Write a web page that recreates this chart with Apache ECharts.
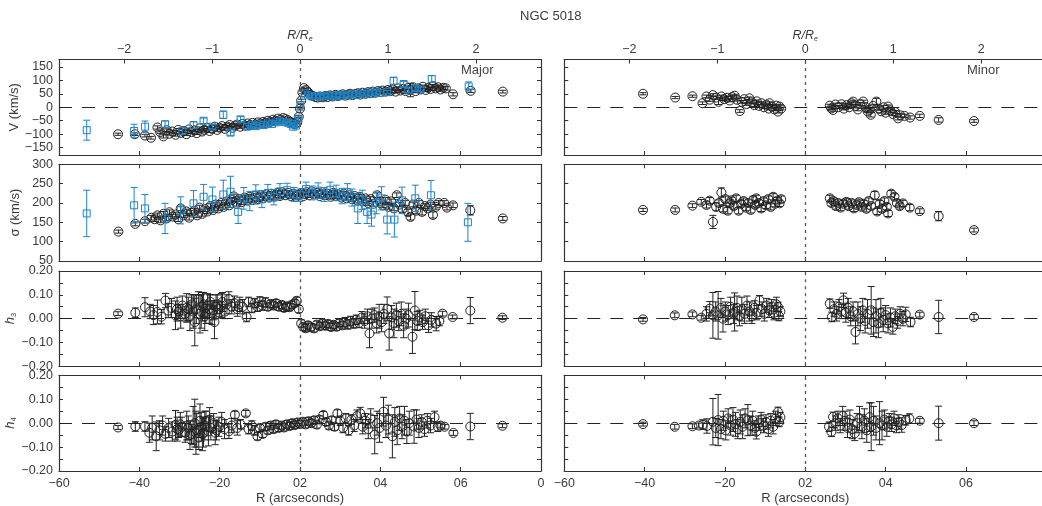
<!DOCTYPE html>
<html>
<head>
<meta charset="utf-8">
<script src="https://cdn.jsdelivr.net/npm/echarts@6/dist/echarts.min.js"></script>
<style>html,body{margin:0;padding:0;background:#fff;overflow:hidden}#c{width:1050px;height:506px}</style>
</head>
<body>
<div id="c"></div>
<script>
// ---------------- data (R arcsec, value, error) ----------------
const RE_ARCSEC = 21.9;
const X_TICK_LABELS = ['\u221260','\u221240','\u221220','02','04','06','0'];
const RE_TICKS = [-2,-1,0,1,2];
const V_TICKS = [-150,-100,-50,0,50,100,150];
const H_TICKS = [-0.2,-0.15,-0.1,-0.05,0,0.05,0.1,0.15,0.2];
const H_LABELS = [-0.2,-0.1,0,0.1,0.2];

const MAJ_V_K = [[-45.3,-100,4],[-41.1,-100,5],[-38.6,-105,5],[-37.1,-113,5],[-35.5,-75,6],[-34.8,-92,5],[-34.0,-108,6],[-33.2,-85,5],[-32.5,-98,5],[-31.8,-90,5],[-31.0,-102,5],[-30.3,-84,5],[-29.6,-95,5],[-29.0,-88,5],[-28.3,-100,5],[-27.6,-82,5],[-27.0,-92,5],[-26.3,-86,5],[-25.7,-96,5],[-25.0,-78,5],[-24.4,-90,5],[-23.8,-84,5],[-23.1,-76,5],[-22.5,-88,5],[-21.9,-80,5],[-21.2,-72,5],[-20.6,-84,5],[-20.0,-76,5],[-19.4,-70,5],[-18.7,-80,5],[-18.1,-72,5],[-17.5,-66,5],[-16.8,-76,5],[-16.2,-68,5],[-15.6,-64,5],[-14.9,-72,5],[-14.3,-62,5],[-13.7,-68,5],[-13.0,-60,4],[-12.4,-66,4],[-11.8,-58,4],[-11.1,-64,4],[-10.5,-56,4],[-9.9,-60,4],[-9.2,-54,4],[-8.6,-58,4],[-8.0,-50,4],[-7.4,-54,4],[-6.7,-46,4],[-6.1,-50,4],[-5.5,-42,4],[-4.8,-46,4],[-4.2,-40,4],[-3.6,-44,4],[-3.0,-48,4],[-2.4,-54,4],[-1.8,-58,4],[-1.2,-62,4],[-0.7,-56,4],[-0.3,-35,4],[0.0,-5,5],[0.3,25,5],[0.6,55,5],[1.0,71,4],[1.5,64,4],[2.0,56,4],[2.6,46,4],[3.2,42,4],[3.8,38,4],[4.4,36,4],[5.0,40,4],[5.7,37,4],[6.3,42,4],[6.9,38,4],[7.5,44,4],[8.1,40,4],[8.8,46,4],[9.4,42,4],[10.0,44,4],[10.6,48,4],[11.3,43,4],[11.9,47,4],[12.5,50,4],[13.1,45,4],[13.8,49,4],[14.4,52,4],[15.0,47,4],[15.6,54,4],[16.3,50,4],[16.9,56,4],[17.5,52,4],[18.1,58,4],[18.8,54,4],[19.4,60,4],[20.0,56,4],[20.6,62,5],[21.3,58,5],[21.9,64,5],[22.5,60,5],[23.1,66,5],[23.8,58,5],[24.4,70,5],[25.0,62,5],[25.6,68,6],[26.3,60,8],[26.9,72,6],[27.5,64,25],[28.1,74,6],[28.8,60,6],[29.4,70,6],[30.0,66,6],[30.6,76,6],[31.3,64,6],[31.9,72,6],[32.5,68,6],[33.1,78,6],[33.8,70,6],[34.4,74,6],[35.0,66,6],[35.7,72,6],[36.3,70,6],[38.1,48,6],[42.5,61,6],[50.5,58,5]];
const MAJ_V_B = [[-53.1,-85,37],[-41.3,-88,25],[-38.6,-72,21],[-33.6,-63,12],[-29.3,-88,12],[-26.5,-66,12],[-24.0,-50,10],[-21.8,-72,8],[-19.1,-28,14],[-17.3,-94,10],[-14.8,-45,10],[-13.2,-72,6],[-12.0,-66,6],[-11.0,-70,6],[-10.0,-64,5],[-9.0,-66,5],[-8.0,-60,5],[-7.0,-62,5],[-6.0,-56,5],[-5.0,-52,5],[-4.0,-55,5],[-3.0,-58,5],[-2.3,-62,5],[-1.7,-72,5],[-1.0,-68,6],[-0.4,-42,6],[0.1,8,6],[1.2,52,5],[2.0,44,5],[3.0,40,5],[4.0,42,5],[5.0,38,5],[6.0,41,5],[7.0,44,5],[8.0,40,5],[9.0,45,5],[10.0,42,5],[11.0,47,5],[12.0,44,5],[13.0,48,5],[14.0,46,5],[15.0,51,5],[16.0,48,5],[17.0,55,6],[18.0,50,6],[19.0,58,6],[20.0,53,6],[21.7,56,6],[23.3,98,13],[25.8,86,10],[27.0,62,8],[28.7,71,8],[30.0,66,8],[32.8,105,12],[42.0,77,17]];
const MAJ_S_K = [[-45.2,126,4],[-41.0,146,5],[-38.6,153,5],[-37.0,162,6],[-36.2,158,6],[-35.5,168,6],[-34.7,155,6],[-34.0,172,6],[-33.2,160,6],[-32.5,176,6],[-31.7,165,6],[-31.0,170,6],[-30.3,158,6],[-29.7,186,6],[-29.0,168,6],[-28.3,178,6],[-27.6,162,6],[-27.0,175,6],[-26.3,180,6],[-25.6,168,6],[-25.0,188,6],[-24.3,172,6],[-23.6,184,6],[-23.0,178,6],[-22.3,192,6],[-21.6,182,6],[-21.0,196,6],[-20.3,186,6],[-19.6,200,6],[-19.0,190,6],[-18.3,204,6],[-17.6,194,6],[-16.9,208,6],[-16.5,217,6],[-15.8,198,6],[-15.2,210,6],[-14.5,202,6],[-13.8,214,6],[-13.1,206,6],[-12.5,216,6],[-11.8,208,6],[-11.1,218,6],[-10.4,210,6],[-9.8,220,6],[-9.1,212,6],[-8.4,222,6],[-7.7,214,6],[-7.1,224,6],[-6.4,216,6],[-5.7,226,6],[-5.0,218,6],[-4.4,228,6],[-3.7,220,6],[-3.0,226,6],[-2.3,218,6],[-1.7,224,6],[-1.0,216,6],[-0.4,222,6],[0.3,226,6],[0.9,218,6],[1.6,228,6],[2.3,220,6],[2.9,230,6],[3.6,222,6],[4.3,226,6],[4.9,218,6],[5.6,228,6],[6.3,220,6],[6.9,224,6],[7.6,216,6],[8.3,226,6],[8.9,218,6],[9.6,222,6],[10.3,214,6],[10.9,224,6],[11.6,212,6],[12.3,220,6],[12.9,210,6],[13.6,218,6],[14.3,206,6],[14.9,216,6],[15.6,204,6],[16.3,212,6],[16.9,200,6],[17.6,210,6],[18.3,198,6],[19.2,220,6],[19.9,204,6],[20.6,194,6],[21.3,208,6],[22.0,190,6],[22.7,204,6],[23.4,186,6],[24.1,220,6],[24.8,196,6],[25.5,184,8],[26.2,200,6],[26.9,176,8],[27.5,164,8],[28.2,196,6],[28.9,180,8],[29.6,200,6],[30.4,177,8],[31.1,192,6],[31.8,186,6],[32.5,196,6],[33.1,169,8],[33.8,190,6],[34.5,200,6],[35.9,200,6],[36.6,188,6],[38.1,194,6],[42.4,181,12],[50.5,160,5]];
const MAJ_S_B = [[-53.1,173,60],[-41.3,194,46],[-38.6,186,36],[-33.6,160,39],[-29.7,181,35],[-26.5,199,33],[-24.0,216,32],[-21.8,209,32],[-19.1,222,37],[-17.3,229,40],[-15.4,177,30],[-14.0,212,28],[-12.5,205,25],[-11.0,222,25],[-9.5,210,22],[-8.0,226,22],[-6.5,215,20],[-5.0,230,20],[-3.2,233,18],[-1.5,222,18],[0.0,220,16],[1.5,236,18],[3.0,226,18],[4.5,232,20],[6.0,222,18],[7.5,234,20],[9.0,226,20],[10.5,218,20],[11.8,228,22],[13.0,214,22],[14.4,186,39],[15.5,208,25],[16.7,177,30],[17.8,170,30],[19.0,200,28],[20.3,212,30],[21.7,157,37],[23.5,157,45],[25.4,207,34],[28.7,212,34],[32.6,220,38],[41.8,150,49]];
const MAJ_H3 = [[-45.3,0.021,0.008],[-41.0,0.025,0.02],[-38.6,0.048,0.04],[-37.3,0.030,0.03],[-36.5,0.015,0.04],[-35.5,0.028,0.05],[-34.5,0.008,0.03],[-33.5,0.076,0.03],[-32.8,0.034,0.03],[-32.0,0.045,0.04],[-31.0,0.014,0.06],[-30.6,0.040,0.05],[-30.2,0.030,0.03],[-29.7,0.010,0.05],[-29.3,0.055,0.04],[-28.6,0.020,0.03],[-28.2,0.045,0.06],[-27.8,0.040,0.05],[-27.4,0.010,0.06],[-27.0,0.060,0.04],[-26.6,0.030,0.07],[-26.2,-0.014,0.10],[-25.8,0.040,0.06],[-25.3,0.083,0.03],[-24.9,0.020,0.08],[-24.6,0.030,0.07],[-24.3,0.050,0.06],[-24.0,0.060,0.05],[-23.7,0.010,0.06],[-23.4,0.020,0.04],[-23.0,0.055,0.05],[-22.6,0.040,0.06],[-22.3,0.070,0.03],[-21.9,0.025,0.05],[-21.6,0.035,0.04],[-21.3,-0.014,0.07],[-20.9,0.050,0.05],[-20.6,0.060,0.04],[-20.0,0.040,0.03],[-19.6,0.055,0.05],[-19.3,0.070,0.04],[-18.7,0.030,0.03],[-18.2,0.060,0.04],[-17.7,0.083,0.03],[-17.0,0.050,0.03],[-16.3,0.065,0.03],[-15.6,0.040,0.03],[-15.0,0.060,0.03],[-14.3,0.050,0.03],[-13.3,0.007,0.02],[-12.8,0.070,0.02],[-12.0,0.045,0.02],[-11.3,0.065,0.02],[-10.6,0.050,0.02],[-10.0,0.072,0.02],[-9.3,0.055,0.02],[-8.6,0.068,0.02],[-8.0,0.050,0.015],[-7.3,0.062,0.015],[-6.6,0.055,0.015],[-6.0,0.065,0.015],[-5.3,0.050,0.015],[-4.6,0.058,0.015],[-4.0,0.045,0.015],[-3.3,0.052,0.015],[-2.6,0.048,0.015],[-2.0,0.058,0.015],[-1.3,0.065,0.015],[-0.8,0.075,0.015],[-0.3,0.040,0.015],[0.3,-0.020,0.015],[0.8,-0.034,0.015],[1.4,-0.040,0.015],[2.0,-0.028,0.015],[2.7,-0.036,0.015],[3.5,-0.041,0.015],[4.2,-0.025,0.015],[4.9,-0.032,0.015],[5.6,-0.020,0.015],[6.3,-0.030,0.015],[7.0,-0.022,0.015],[7.7,-0.035,0.015],[8.4,-0.026,0.015],[9.1,-0.034,0.015],[9.8,-0.018,0.015],[10.5,-0.028,0.015],[11.2,-0.015,0.02],[11.9,-0.024,0.02],[12.6,-0.010,0.02],[13.3,-0.020,0.02],[14.0,-0.005,0.02],[14.7,-0.018,0.02],[15.4,0.005,0.025],[16.1,-0.010,0.03],[16.8,0.010,0.03],[17.3,-0.062,0.06],[17.9,0.000,0.04],[18.5,0.015,0.03],[19.1,-0.020,0.04],[19.7,0.010,0.05],[20.3,-0.015,0.04],[20.9,0.020,0.04],[21.7,0.041,0.05],[22.2,-0.062,0.07],[22.8,0.005,0.05],[23.4,-0.020,0.06],[24.0,0.015,0.05],[24.6,-0.010,0.04],[25.2,0.020,0.05],[25.8,-0.030,0.05],[26.4,0.000,0.04],[27.0,0.015,0.05],[28.0,-0.076,0.07],[28.6,0.034,0.08],[29.2,-0.010,0.04],[29.8,0.005,0.03],[30.5,-0.015,0.03],[31.2,0.010,0.03],[32.0,-0.028,0.03],[32.7,-0.005,0.03],[33.9,-0.021,0.03],[34.7,-0.010,0.02],[35.5,0.021,0.01],[38.0,0.007,0.008],[42.4,0.034,0.055],[50.4,0.004,0.008]];
const MAJ_H4 = [[-45.3,-0.018,0.008],[-41.0,-0.014,0.02],[-38.6,-0.014,0.02],[-37.5,-0.040,0.04],[-36.8,-0.020,0.05],[-35.8,-0.055,0.06],[-35.0,-0.030,0.04],[-34.2,-0.010,0.04],[-33.5,-0.045,0.03],[-32.7,-0.020,0.04],[-31.8,-0.035,0.04],[-31.0,-0.007,0.06],[-30.6,-0.025,0.05],[-30.2,-0.030,0.03],[-29.8,-0.005,0.05],[-29.4,-0.015,0.04],[-28.6,-0.040,0.04],[-28.2,-0.010,0.06],[-27.8,-0.020,0.05],[-27.4,-0.050,0.06],[-27.0,-0.045,0.04],[-26.6,-0.010,0.08],[-26.2,0.000,0.10],[-25.9,-0.040,0.09],[-25.7,-0.030,0.07],[-25.2,-0.060,0.05],[-24.9,0.010,0.07],[-24.6,-0.015,0.06],[-24.3,-0.045,0.07],[-24.0,-0.040,0.06],[-23.7,-0.010,0.06],[-23.4,0.010,0.04],[-22.8,-0.035,0.06],[-22.5,0.015,0.05],[-22.2,-0.020,0.05],[-21.5,0.000,0.04],[-21.1,-0.040,0.05],[-20.8,-0.030,0.04],[-20.2,-0.015,0.04],[-19.5,0.005,0.04],[-18.8,-0.025,0.04],[-17.7,-0.034,0.03],[-17.0,-0.010,0.03],[-16.2,0.035,0.015],[-15.6,-0.020,0.03],[-14.8,-0.005,0.02],[-13.5,0.041,0.012],[-12.8,-0.025,0.02],[-12.0,-0.010,0.02],[-11.3,-0.030,0.02],[-10.6,-0.055,0.015],[-10.0,-0.020,0.015],[-9.3,-0.045,0.015],[-8.6,-0.015,0.015],[-8.0,-0.030,0.015],[-7.3,-0.010,0.015],[-6.6,-0.025,0.015],[-6.0,-0.005,0.015],[-5.3,-0.020,0.015],[-4.6,-0.010,0.015],[-4.0,-0.018,0.015],[-3.3,-0.005,0.015],[-2.6,-0.012,0.015],[-2.0,0.000,0.015],[-1.3,-0.008,0.015],[-0.6,0.003,0.015],[0.0,-0.004,0.015],[0.7,0.006,0.015],[1.4,-0.005,0.015],[2.1,0.008,0.015],[2.8,0.000,0.015],[3.5,0.012,0.015],[4.2,-0.006,0.015],[4.9,0.015,0.015],[5.8,0.034,0.015],[6.5,0.005,0.015],[7.2,-0.010,0.015],[7.9,0.012,0.015],[8.6,-0.015,0.015],[9.3,0.041,0.015],[10.0,0.010,0.02],[10.7,-0.020,0.02],[11.4,0.020,0.02],[12.1,-0.030,0.02],[12.8,0.015,0.02],[13.5,-0.010,0.025],[14.2,0.030,0.025],[15.0,0.041,0.025],[15.6,-0.015,0.03],[16.3,0.010,0.03],[17.0,-0.025,0.04],[17.6,0.020,0.04],[18.6,-0.048,0.08],[19.2,0.000,0.05],[19.8,-0.020,0.06],[20.8,0.048,0.06],[21.4,-0.010,0.05],[22.0,0.015,0.06],[23.0,-0.055,0.09],[23.6,0.005,0.06],[24.2,-0.030,0.06],[24.8,0.020,0.05],[25.4,-0.015,0.05],[26.0,0.010,0.06],[26.6,-0.035,0.05],[27.2,0.000,0.05],[28.4,-0.014,0.07],[29.0,0.015,0.04],[29.6,-0.020,0.04],[30.3,0.005,0.03],[31.0,-0.025,0.03],[31.7,0.010,0.03],[32.5,-0.010,0.03],[33.5,0.025,0.025],[34.3,-0.015,0.02],[35.0,-0.010,0.01],[36.0,-0.015,0.01],[38.2,-0.041,0.01],[42.4,-0.014,0.055],[50.4,-0.011,0.008]];
const MIN_V = [[-40.4,50,4],[-32.4,36,4],[-28.1,41,4],[-25.6,15,5],[-24.6,40,5],[-23.8,28,6],[-23.0,45,5],[-22.2,36,6],[-21.6,20,10],[-20.9,40,5],[-20.2,30,5],[-19.5,35,5],[-18.8,25,5],[-18.2,38,5],[-17.6,43,5],[-17.0,28,5],[-16.3,-14,5],[-15.8,20,5],[-15.2,30,5],[-14.6,12,5],[-13.9,33,5],[-13.3,18,5],[-12.7,8,5],[-12.1,22,5],[-11.5,5,5],[-10.9,15,5],[-10.3,0,5],[-9.7,10,5],[-9.1,-5,5],[-8.9,15,5],[-8.3,2,5],[-7.7,-8,5],[-7.2,6,5],[-6.8,-16,5],[-6.4,2.5,5],[-6.0,-5,5],[6.1,6,5],[6.5,-4,5],[6.9,-10,5],[7.5,10,5],[8.2,0,5],[9.0,11,5],[9.6,-5,5],[10.3,8,5],[10.9,0,5],[11.5,15,5],[11.9,21,5],[12.5,5,5],[13.1,-8,5],[13.7,12,5],[14.4,21,5],[15.0,0,5],[15.5,-15,5],[16.0,-10,5],[16.3,-28,8],[16.9,5,6],[17.7,21,12],[18.3,-5,6],[18.9,-15,6],[19.5,0,6],[20.0,-20,6],[20.6,2.5,6],[21.2,-12,6],[21.8,-25,6],[22.4,-18,6],[23.1,-41,6],[23.7,-30,6],[24.7,-32,6],[26.1,-38,6],[28.5,-32,6],[33.2,-47,8],[42.0,-51,5]];
const MIN_S = [[-40.4,182,4],[-32.4,182,5],[-28.1,193,5],[-25.9,203,6],[-24.6,195,8],[-23.8,206,8],[-23.0,151,17],[-22.2,190,10],[-21.5,200,8],[-20.9,227,12],[-20.5,185,8],[-19.9,210,8],[-19.3,180,8],[-18.7,200,8],[-18.4,207,8],[-17.8,192,8],[-17.2,212,8],[-16.6,180,8],[-16.0,198,8],[-15.4,205,8],[-14.8,188,8],[-14.2,200,8],[-13.6,182,8],[-13.0,208,8],[-12.5,195,8],[-12.2,212,8],[-11.6,200,8],[-11.0,186,8],[-10.4,205,8],[-9.8,194,8],[-9.2,210,8],[-8.6,190,8],[-8.0,216,8],[-7.5,198,8],[-7.0,206,8],[-6.4,199,8],[-6.0,210,8],[6.1,212,8],[6.5,200,8],[7.0,205,8],[7.6,192,8],[8.2,200,8],[8.8,188,8],[9.5,198,8],[10.2,203,8],[10.8,192,8],[11.5,200,8],[12.1,186,8],[12.8,195,8],[13.4,202,8],[14.0,190,8],[14.6,198,8],[15.2,185,8],[15.8,205,8],[16.4,192,8],[17.3,220,10],[17.9,178,8],[18.5,198,8],[19.1,185,8],[19.7,205,8],[20.3,190,8],[20.6,173,8],[21.4,224,8],[22.2,216,8],[22.8,200,8],[23.5,192,8],[24.3,199,8],[26.0,188,8],[28.5,179,6],[33.2,166,12],[42.0,130,5]];
const MIN_H3 = [[-40.4,-0.003,0.008],[-32.5,0.014,0.01],[-28.1,0.018,0.01],[-25.9,0.004,0.01],[-24.6,0.020,0.03],[-23.8,0.042,0.03],[-23.0,0.014,0.096],[-22.3,0.030,0.04],[-21.7,0.014,0.10],[-21.0,0.045,0.04],[-20.5,0.000,0.056],[-19.9,0.030,0.04],[-19.2,0.015,0.04],[-18.6,0.050,0.04],[-17.9,0.020,0.04],[-17.6,0.028,0.08],[-17.0,0.045,0.05],[-16.4,0.010,0.04],[-15.8,0.040,0.05],[-15.1,0.020,0.04],[-14.5,0.055,0.04],[-13.9,0.030,0.04],[-13.3,0.010,0.03],[-12.7,0.045,0.03],[-12.1,0.025,0.03],[-11.4,0.077,0.02],[-10.8,0.040,0.03],[-10.2,0.020,0.03],[-9.6,0.055,0.03],[-9.0,0.035,0.03],[-8.4,0.050,0.03],[-7.8,0.025,0.03],[-7.2,0.060,0.03],[-6.8,0.049,0.02],[-6.6,0.011,0.02],[-6.2,0.030,0.02],[6.1,0.063,0.02],[6.6,0.007,0.02],[7.2,0.040,0.03],[7.8,0.020,0.03],[8.4,0.050,0.03],[9.0,0.030,0.03],[9.5,0.077,0.03],[10.1,0.025,0.04],[10.7,0.045,0.04],[11.3,0.010,0.04],[11.9,0.030,0.04],[12.5,-0.056,0.05],[13.1,0.020,0.05],[13.7,0.000,0.05],[14.3,0.035,0.05],[14.9,-0.010,0.05],[15.5,0.020,0.06],[16.4,0.035,0.10],[17.0,-0.015,0.06],[17.6,0.010,0.07],[18.2,-0.020,0.06],[18.8,0.025,0.06],[19.4,-0.005,0.05],[20.0,0.015,0.04],[20.6,-0.020,0.04],[21.2,0.005,0.04],[21.8,-0.035,0.03],[22.4,0.010,0.03],[23.0,-0.010,0.03],[23.6,0.020,0.03],[24.3,0.000,0.03],[25.0,0.018,0.03],[26.2,-0.014,0.02],[28.5,0.017,0.01],[33.2,0.007,0.07],[42.0,0.007,0.01]];
const MIN_H4 = [[-40.4,-0.004,0.008],[-32.5,-0.015,0.01],[-28.1,-0.013,0.01],[-26.5,-0.010,0.01],[-25.5,-0.006,0.02],[-24.5,-0.012,0.03],[-23.0,0.006,0.097],[-22.3,-0.020,0.04],[-21.7,0.013,0.107],[-21.0,-0.025,0.04],[-20.4,0.010,0.04],[-19.8,-0.030,0.04],[-19.2,0.020,0.04],[-18.6,-0.010,0.04],[-18.0,0.015,0.05],[-17.4,-0.005,0.05],[-16.8,-0.025,0.04],[-16.2,0.005,0.05],[-15.6,-0.015,0.05],[-15.0,0.020,0.04],[-14.3,0.0125,0.065],[-13.7,-0.010,0.04],[-13.1,0.010,0.04],[-12.5,-0.020,0.03],[-12.2,-0.036,0.03],[-11.6,0.000,0.03],[-11.0,0.015,0.03],[-10.4,-0.010,0.03],[-9.8,0.005,0.03],[-9.2,-0.025,0.03],[-8.6,0.010,0.03],[-8.0,-0.015,0.03],[-7.4,0.020,0.03],[-6.8,0.047,0.02],[-6.5,0.005,0.02],[-6.2,0.025,0.02],[5.9,-0.015,0.02],[6.5,-0.036,0.02],[6.9,0.026,0.02],[7.5,0.000,0.03],[8.1,0.020,0.03],[8.7,-0.010,0.03],[9.3,0.030,0.04],[9.9,0.010,0.04],[10.5,-0.020,0.04],[11.1,0.015,0.04],[11.7,-0.025,0.04],[12.3,-0.043,0.03],[12.9,0.000,0.04],[13.5,0.020,0.05],[14.1,-0.015,0.05],[14.7,0.010,0.05],[15.3,-0.030,0.05],[16.0,0.025,0.06],[16.4,-0.015,0.10],[17.0,0.010,0.06],[17.6,-0.020,0.05],[18.5,0.000,0.09],[19.1,-0.010,0.06],[19.7,0.015,0.04],[20.3,-0.015,0.04],[20.9,0.010,0.03],[21.5,-0.005,0.03],[22.1,0.020,0.03],[22.7,-0.010,0.03],[23.3,0.005,0.03],[24.0,-0.008,0.03],[25.0,0.012,0.02],[25.9,0.019,0.02],[28.5,0.010,0.01],[33.2,0.000,0.071],[42.0,0.000,0.01]];

// ---------------- layout & style ----------------
const FONT = "'Liberation Sans', Arial, sans-serif";
const TXT = '#3a3a3a';
const AX = '#333';
const BLK = '#222';
const BLUE = '#1f83c6';
const COLS = [{left: 59, width: 482}, {left: 564.3, width: 482}];
const ROWS = [{top: 59.5, height: 95.5}, {top: 164.3, height: 96.7}, {top: 271, height: 95.3}, {top: 375.3, height: 96}];

const minus = s => String(s).replace('-', '\u2212');
const ROWDEF = [
  {min: -177, max: 177, ticks: V_TICKS, labels: V_TICKS, fmt: v => minus(v), name: 'V (km/s)', zero: true},
  {min: 50, max: 300, interval: 50, fmt: v => String(v), name: '\u03c3 (km/s)', zero: false},
  {min: -0.2, max: 0.2, ticks: H_TICKS, labels: H_LABELS, fmt: v => minus(v.toFixed(2)), name: '{i|h}{s|3}', zero: true},
  {min: -0.2, max: 0.2, ticks: H_TICKS, labels: H_LABELS, fmt: v => minus(v.toFixed(2)), name: '{i|h}{s|4}', zero: true}
];
const SERIES = [
  [[MAJ_V_K, MAJ_V_B], [MAJ_S_K, MAJ_S_B], [MAJ_H3], [MAJ_H4]],
  [[MIN_V], [MIN_S], [MIN_H3], [MIN_H4]]
];

const grids = [], xAxes = [], yAxes = [], series = [];
const reTickVals = RE_TICKS.map(t => t * RE_ARCSEC);

function errRender(color, cap) {
  return function (params, api) {
    const x = api.value(0), y = api.value(1), e = api.value(2);
    const lo = api.coord([x, y - e]), hi = api.coord([x, y + e]);
    const st = {stroke: color, lineWidth: 1};
    return {type: 'group', children: [
      {type: 'line', shape: {x1: lo[0], y1: lo[1], x2: hi[0], y2: hi[1]}, style: st},
      {type: 'line', shape: {x1: lo[0] - cap, y1: lo[1], x2: lo[0] + cap, y2: lo[1]}, style: st},
      {type: 'line', shape: {x1: hi[0] - cap, y1: hi[1], x2: hi[0] + cap, y2: hi[1]}, style: st}
    ]};
  };
}

const lineStyle = {color: AX, width: 1.2};
const labelBase = {color: TXT, fontSize: 12.5, fontFamily: FONT};

for (let c = 0; c < 2; c++) {
  for (let r = 0; r < 4; r++) {
    const gi = c * 4 + r;
    const rd = ROWDEF[r];
    grids.push({left: COLS[c].left, width: COLS[c].width, top: ROWS[r].top, height: ROWS[r].height, containLabel: false});
    // bottom x axis
    xAxes.push({
      gridIndex: gi, type: 'value', min: -60, max: 60, interval: 20, position: 'bottom',
      axisLine: {show: true, onZero: false, lineStyle},
      axisTick: {show: true, inside: true, length: 4, lineStyle: {color: AX, width: 1}},
      axisLabel: Object.assign({show: r === 3, margin: 6,
        formatter: v => (c === 1 && v >= 60) ? '' : X_TICK_LABELS[Math.round((v + 60) / 20)]}, labelBase),
      splitLine: {show: false},
      name: r === 3 ? 'R (arcseconds)' : '', nameLocation: 'middle', nameGap: 21,
      nameTextStyle: {color: TXT, fontSize: 13, fontFamily: FONT}
    });
    // top x axis
    const top = {
      gridIndex: gi, type: 'value', min: -60, max: 60, position: 'top',
      axisLine: {show: true, onZero: false, lineStyle},
      splitLine: {show: false}
    };
    if (r === 0) {
      top.axisTick = {show: true, inside: true, length: 4, customValues: reTickVals, lineStyle: {color: AX, width: 1}};
      top.axisLabel = Object.assign({show: true, margin: 3, customValues: reTickVals, formatter: v => minus(Math.round(v / RE_ARCSEC))}, labelBase);
      top.name = '{i|R/R}{s|e}';
      top.nameLocation = 'middle';
      top.nameGap = 15;
      top.nameTextStyle = {color: TXT, fontFamily: FONT, rich: {
        i: {fontStyle: 'italic', fontSize: 12.5, fontFamily: FONT, color: TXT},
        s: {fontStyle: 'italic', fontSize: 7, fontFamily: FONT, color: TXT, padding: [7, 0, 0, 0]}
      }};
    } else {
      top.interval = 20;
      top.axisTick = {show: true, inside: true, length: 4, lineStyle: {color: AX, width: 1}};
      top.axisLabel = {show: false};
    }
    xAxes.push(top);
    // left y axis
    const yl = {
      gridIndex: gi, type: 'value', min: rd.min, max: rd.max, position: 'left',
      axisLine: {show: true, onZero: false, lineStyle},
      axisTick: {show: true, inside: true, length: 4, lineStyle: {color: AX, width: 1}},
      axisLabel: Object.assign({show: c === 0, margin: 6, formatter: rd.fmt, showMinLabel: true, showMaxLabel: true}, labelBase),
      splitLine: {show: false}
    };
    if (rd.interval) { yl.interval = rd.interval; }
    else { yl.axisTick.customValues = rd.ticks; yl.axisLabel.customValues = rd.labels; }
    if (c === 0) {
      yl.name = rd.name; yl.nameLocation = 'middle'; yl.nameRotate = 90; yl.nameGap = 37;
      yl.nameTextStyle = {color: TXT, fontSize: 13, fontFamily: FONT, rich: {
        i: {fontStyle: 'italic', fontSize: 13, fontFamily: FONT, color: TXT},
        s: {fontSize: 7.5, fontFamily: FONT, color: TXT, padding: [7, 0, 0, 0]}
      }};
    }
    yAxes.push(yl);
    // right y axis
    const yr = {
      gridIndex: gi, type: 'value', min: rd.min, max: rd.max, position: 'right',
      axisLine: {show: true, onZero: false, lineStyle},
      axisTick: {show: true, inside: true, length: 4, lineStyle: {color: AX, width: 1}},
      axisLabel: {show: false}, splitLine: {show: false}
    };
    if (rd.interval) yr.interval = rd.interval; else yr.axisTick.customValues = rd.ticks;
    yAxes.push(yr);

    // reference lines
    const ml = [{xAxis: 0, lineStyle: {type: [3, 4], color: '#555', width: 1.3}}];
    if (rd.zero) ml.push({yAxis: 0, lineStyle: {type: [13, 10], color: BLK, width: 1}});

    const sets = SERIES[c][r];
    sets.forEach((data, k) => {
      const col = k === 0 ? BLK : BLUE;
      const s = {
        type: 'custom', xAxisIndex: gi * 2, yAxisIndex: gi * 2, data,
        encode: {x: 0, y: 1}, renderItem: errRender(col, 3.5), clip: true, silent: true, z: 2 + k * 2
      };
      if (k === 0) s.markLine = {silent: true, symbol: 'none', label: {show: false}, data: ml, animation: false};
      series.push(s);
      series.push({
        type: 'scatter', xAxisIndex: gi * 2, yAxisIndex: gi * 2, data: data.map(d => [d[0], d[1]]),
        symbol: k === 0 ? 'circle' : 'rect', symbolSize: k === 0 ? 9 : 7,
        itemStyle: {color: 'rgba(0,0,0,0)', borderColor: col, borderWidth: 1, opacity: 1},
        silent: true, z: 3 + k * 2
      });
    });
  }
}

const chart = echarts.init(document.getElementById('c'), null, {renderer: 'canvas'});
chart.setOption({
  animation: false,
  backgroundColor: '#fff',
  grid: grids, xAxis: xAxes, yAxis: yAxes, series,
  graphic: [
    {type: 'text', left: 520, top: 10, style: {text: 'NGC 5018', font: "13px 'Liberation Sans', Arial, sans-serif", fill: TXT}},
    {type: 'text', left: 461, top: 64, style: {text: 'Major', font: "13px 'Liberation Sans', Arial, sans-serif", fill: '#444'}},
    {type: 'text', left: 967, top: 64, style: {text: 'Minor', font: "13px 'Liberation Sans', Arial, sans-serif", fill: '#444'}}
  ]
});
</script>
</body>
</html>
